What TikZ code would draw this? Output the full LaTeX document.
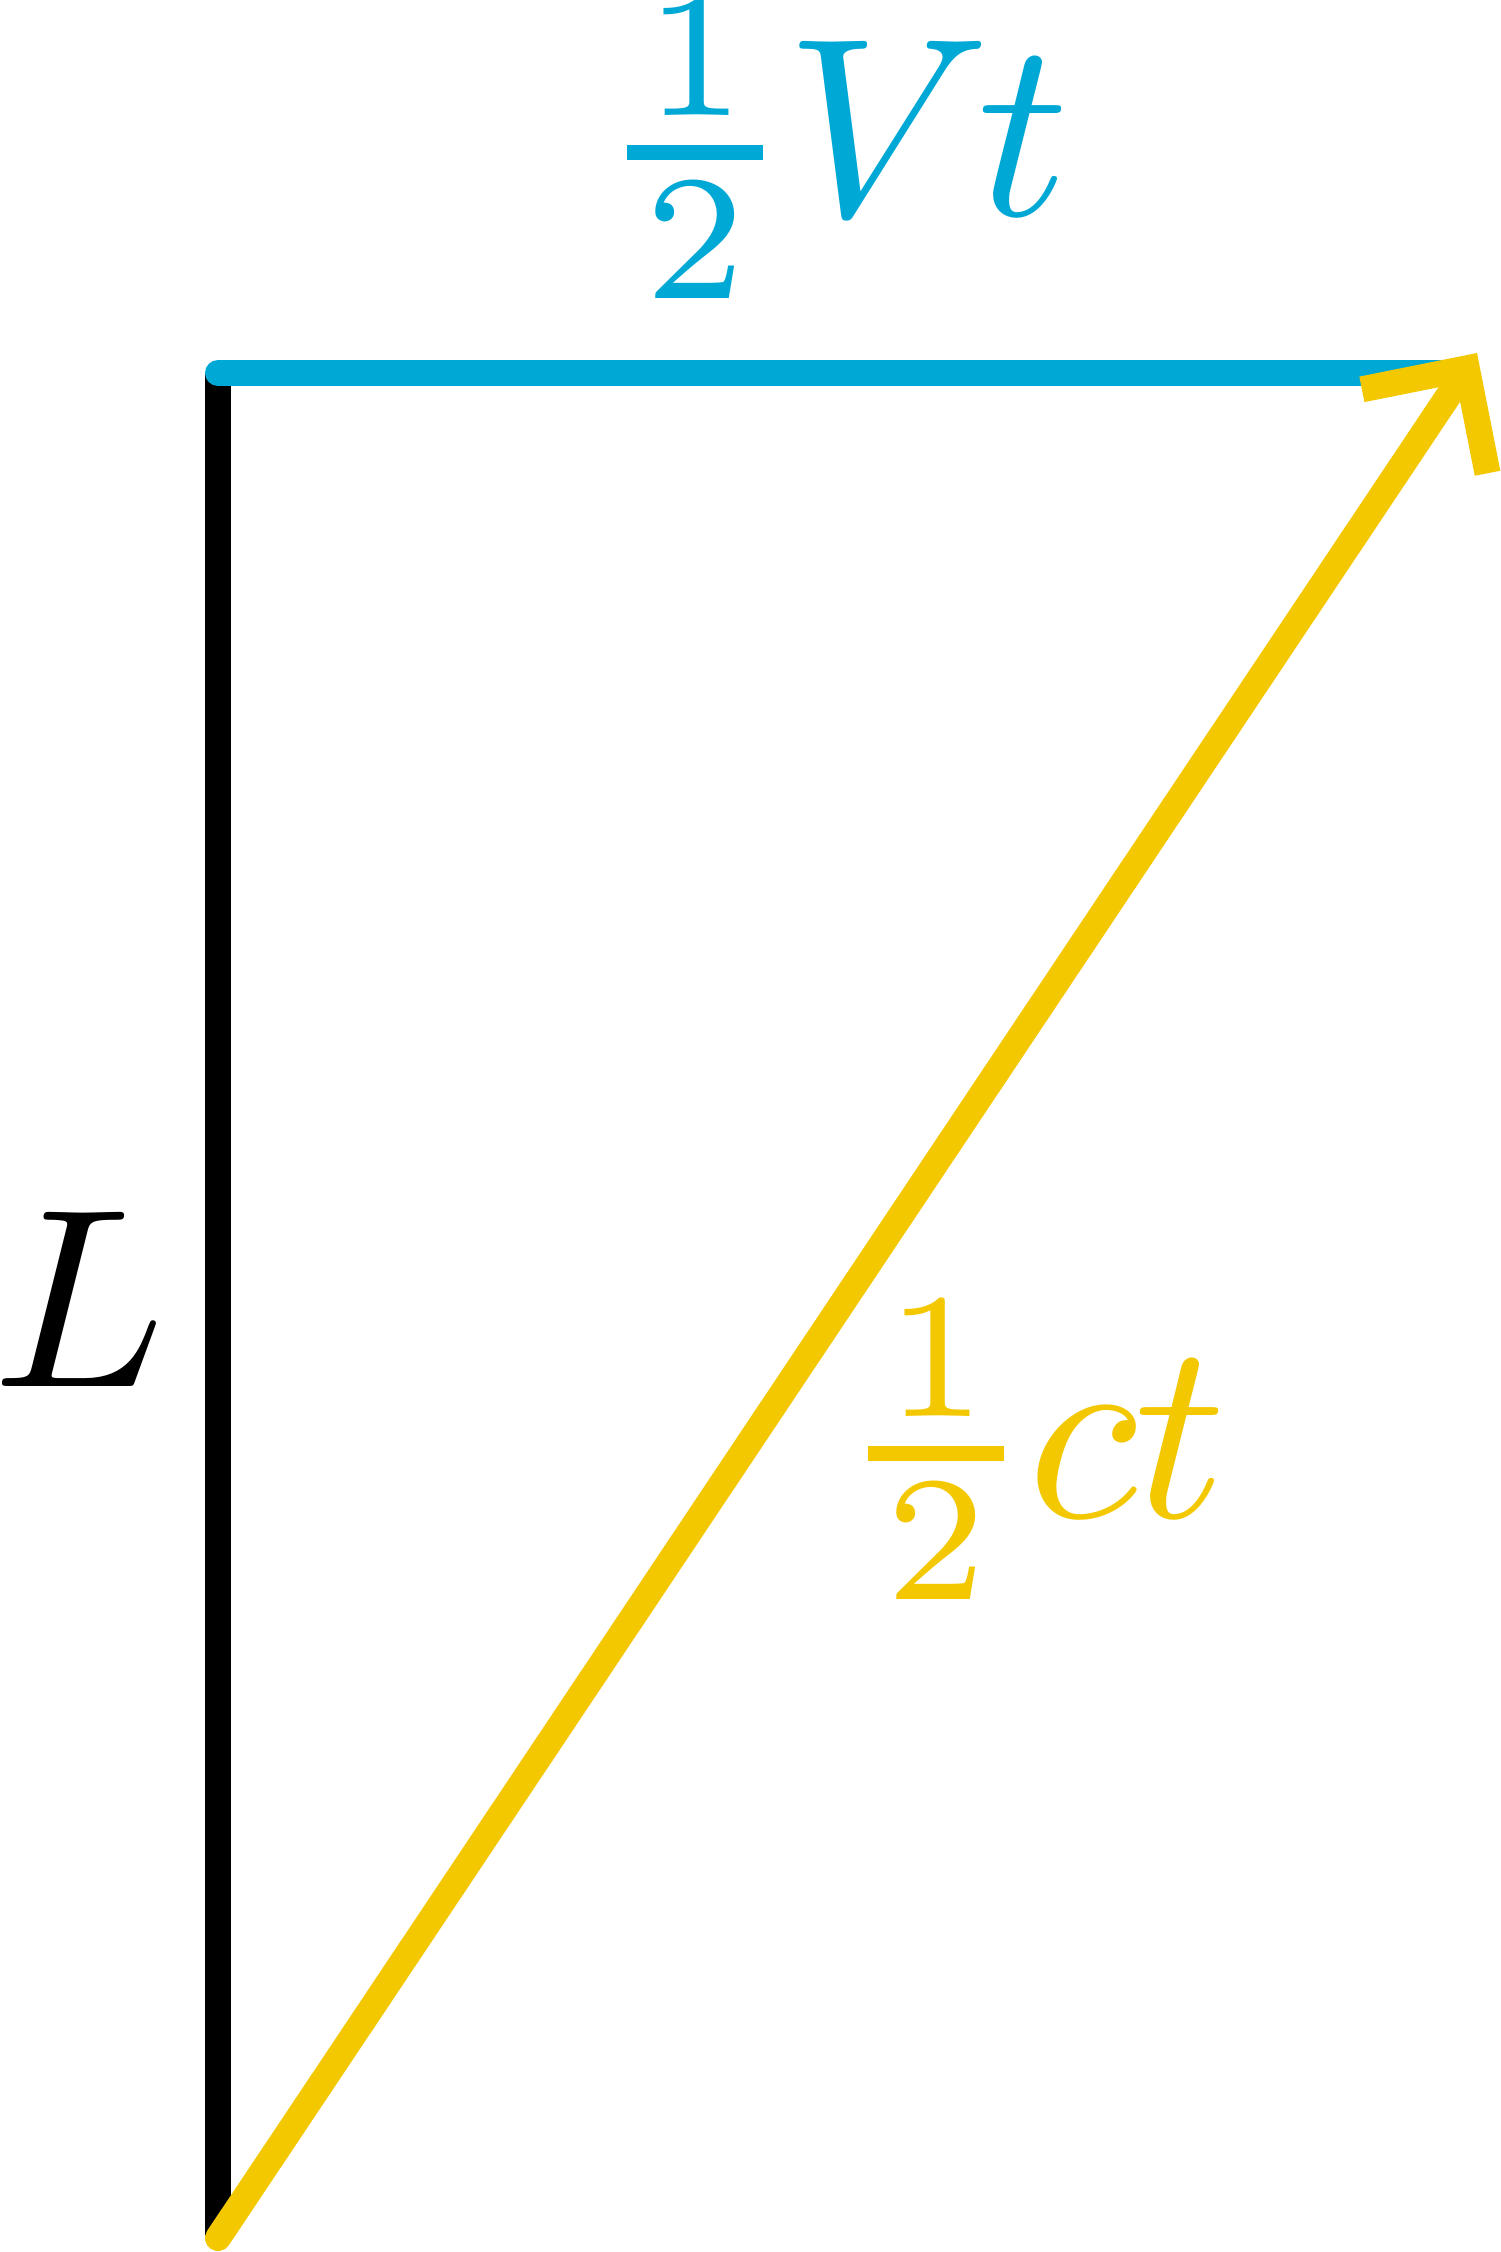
\documentclass[tikz,border=0pt]{standalone}
\usepackage{amsmath}
\usetikzlibrary{arrows.meta}
\definecolor{cyanc}{RGB}{0,168,214}
\definecolor{yelc}{RGB}{244,200,0}
\tikzset{
  seg/.style={line width=0.26cm},
  lbl/.style={inner sep=0pt, scale=7.25},
  barb/.style={-{Straight Barb[sharp, length=0.757cm, width=1.51cm, line width=0pt 1]}},
}
\newcommand{\halfnum}{\genfrac{}{}{0.57pt}{1}{\makebox[5.36pt]{$\scriptstyle 1$}}{\raisebox{0.2pt}{$\scriptstyle 2$}}}
\begin{document}
\begin{tikzpicture}[x=0.01cm, y=-0.01cm]
\useasboundingbox (0,0) rectangle (1500,2252);
\coordinate (A) at (218,373);
\coordinate (B) at (218,2238);
\coordinate (C) at (1466,373);
\coordinate (tip) at (1477,353);
\draw[seg, black] (A) -- (B);
\draw[seg, cyanc, line cap=round] (A) -- (C);
\draw[seg, yelc, line cap=round, barb] (B) -- (tip);
\node[lbl, text=cyanc, anchor=base west] (vt) at (591,216) {$\halfnum\kern-0.35pt V\kern-0.51pt t$};
\node[lbl, text=black, anchor=base west] (L) at (-13,1386) {$L$};
\node[lbl, text=yelc, anchor=base west] (ct) at (832,1517) {$\halfnum\kern-0.31pt c\kern-0.12pt t$};
\end{tikzpicture}
\end{document}
